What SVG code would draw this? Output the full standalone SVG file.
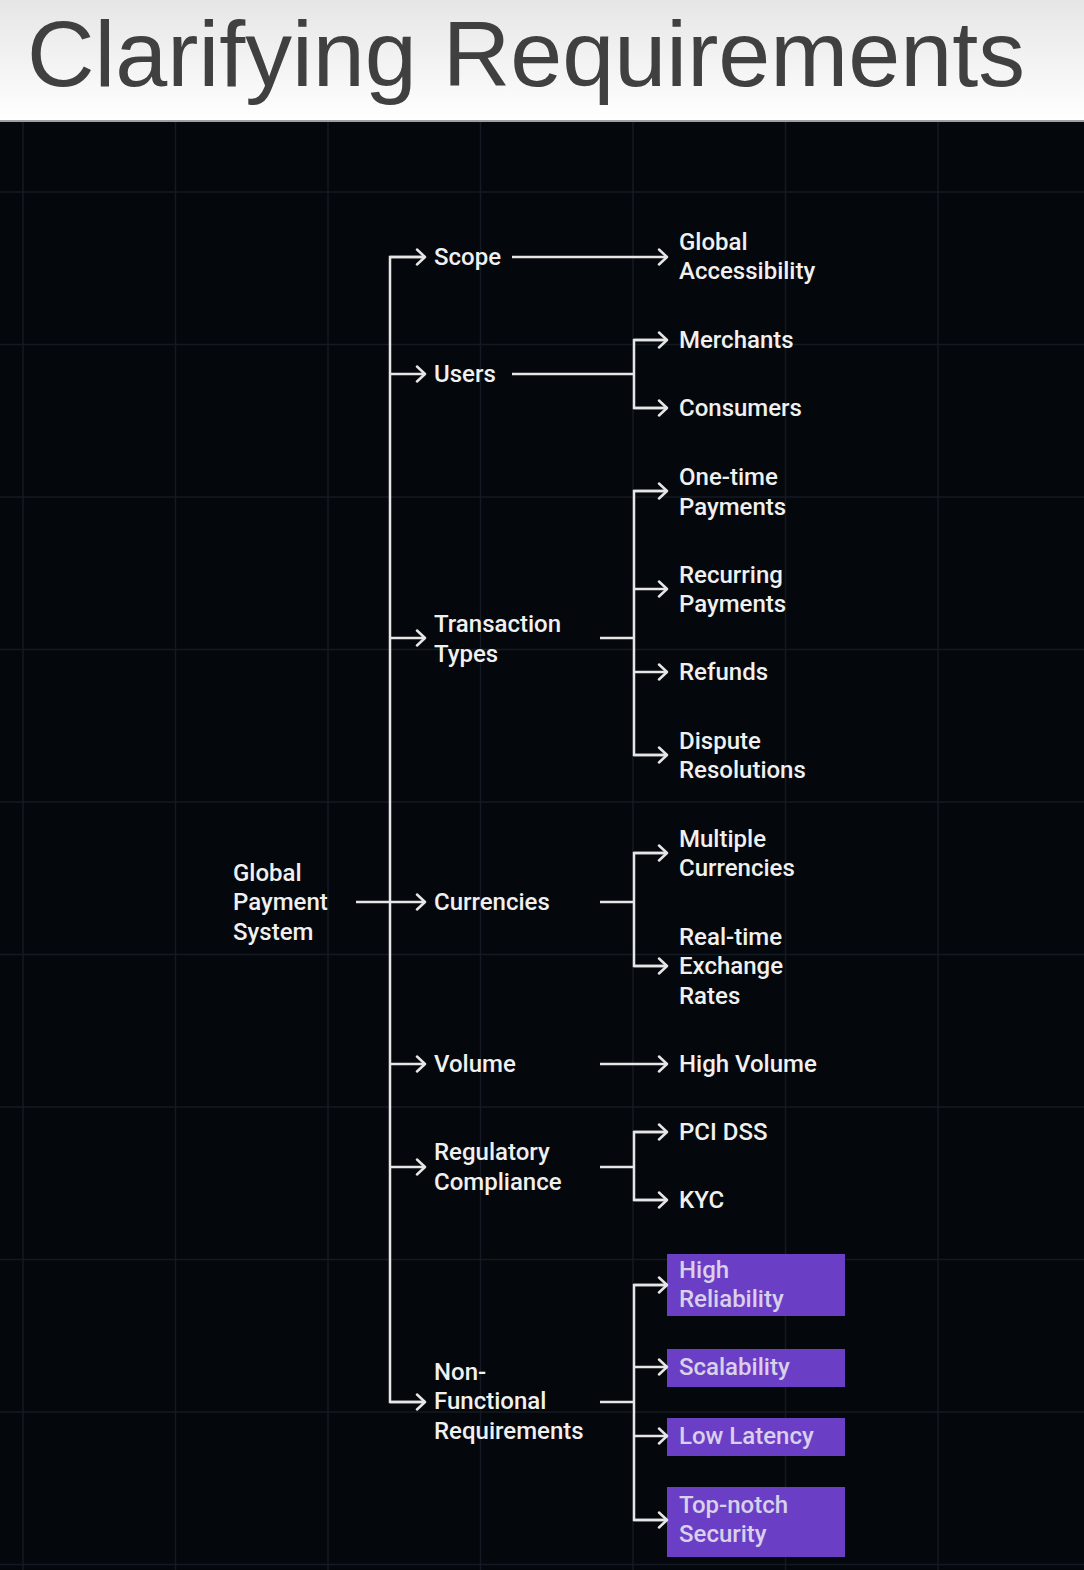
<svg xmlns="http://www.w3.org/2000/svg" width="1084" height="1570" viewBox="0 0 1084 1570">
<defs>
<linearGradient id="hdr" x1="0" y1="0" x2="0" y2="1">
<stop offset="0" stop-color="#e6e6e6"/>
<stop offset="1" stop-color="#ffffff"/>
</linearGradient>
<marker id="ah" viewBox="0 0 12 18" refX="10" refY="9" markerWidth="12" markerHeight="18" markerUnits="userSpaceOnUse" orient="auto">
<path d="M2,1.5 L10,9 L2,16.5" fill="none" stroke="#e6e6e6" stroke-width="2.5" stroke-linecap="round" stroke-linejoin="round"/>
</marker>
</defs>
<style>
.t{font-family:Roboto,"Liberation Sans",sans-serif;font-size:24px;font-weight:500;fill:#f0f0f0}
.pt{font-family:Roboto,"Liberation Sans",sans-serif;font-size:24px;font-weight:500;fill:#d9d0ea}
.c{fill:none;stroke:#e6e6e6;stroke-width:2.5}
.a{fill:none;stroke:#e6e6e6;stroke-width:2.5;marker-end:url(#ah)}
.g{stroke:#141a23;stroke-width:1.5}
.box{fill:#6a3fc6}
</style>
<rect x="0" y="0" width="1084" height="1570" fill="#04070b"/>
<g id="grid">
<line class="g" x1="23" y1="122" x2="23" y2="1570"/>
<line class="g" x1="175.5" y1="122" x2="175.5" y2="1570"/>
<line class="g" x1="328" y1="122" x2="328" y2="1570"/>
<line class="g" x1="480.5" y1="122" x2="480.5" y2="1570"/>
<line class="g" x1="633" y1="122" x2="633" y2="1570"/>
<line class="g" x1="785.5" y1="122" x2="785.5" y2="1570"/>
<line class="g" x1="938" y1="122" x2="938" y2="1570"/>
<line class="g" x1="0" y1="192" x2="1084" y2="192"/>
<line class="g" x1="0" y1="344.5" x2="1084" y2="344.5"/>
<line class="g" x1="0" y1="497" x2="1084" y2="497"/>
<line class="g" x1="0" y1="649.5" x2="1084" y2="649.5"/>
<line class="g" x1="0" y1="802" x2="1084" y2="802"/>
<line class="g" x1="0" y1="954.5" x2="1084" y2="954.5"/>
<line class="g" x1="0" y1="1107" x2="1084" y2="1107"/>
<line class="g" x1="0" y1="1259.5" x2="1084" y2="1259.5"/>
<line class="g" x1="0" y1="1412" x2="1084" y2="1412"/>
<line class="g" x1="0" y1="1564.5" x2="1084" y2="1564.5"/>
</g>
<g id="header">
<rect x="0" y="0" width="1084" height="121" fill="url(#hdr)"/>
<line x1="0" y1="121" x2="1084" y2="121" stroke="#a0a0a0" stroke-width="2"/>
<text x="27" y="86" font-family="'Liberation Sans',Arial,sans-serif" font-size="92" fill="#404040" textLength="998" lengthAdjust="spacingAndGlyphs">Clarifying Requirements</text>
</g>
<g id="connectors">
<line class="a" x1="356" y1="902" x2="425" y2="902"/>
<path class="c" d="M425,257 H390 V1402 H425"/>
<line class="a" x1="390" y1="257" x2="425" y2="257"/>
<line class="a" x1="390" y1="374" x2="425" y2="374"/>
<line class="a" x1="390" y1="638" x2="425" y2="638"/>
<line class="a" x1="390" y1="1064" x2="425" y2="1064"/>
<line class="a" x1="390" y1="1167" x2="425" y2="1167"/>
<line class="a" x1="390" y1="1402" x2="425" y2="1402"/>
<line class="a" x1="512" y1="257" x2="667" y2="257"/>
<line class="c" x1="512" y1="374" x2="634" y2="374"/>
<path class="c" d="M667,340 H634 V408 H667"/>
<line class="a" x1="634" y1="340" x2="667" y2="340"/>
<line class="a" x1="634" y1="408" x2="667" y2="408"/>
<line class="c" x1="600" y1="638" x2="634" y2="638"/>
<path class="c" d="M667,491 H634 V755 H667"/>
<line class="a" x1="634" y1="491" x2="667" y2="491"/>
<line class="a" x1="634" y1="589" x2="667" y2="589"/>
<line class="a" x1="634" y1="672" x2="667" y2="672"/>
<line class="a" x1="634" y1="755" x2="667" y2="755"/>
<line class="c" x1="600" y1="902" x2="634" y2="902"/>
<path class="c" d="M667,853 H634 V966 H667"/>
<line class="a" x1="634" y1="853" x2="667" y2="853"/>
<line class="a" x1="634" y1="966" x2="667" y2="966"/>
<line class="a" x1="600" y1="1064" x2="667" y2="1064"/>
<line class="c" x1="600" y1="1167" x2="634" y2="1167"/>
<path class="c" d="M667,1132 H634 V1200 H667"/>
<line class="a" x1="634" y1="1132" x2="667" y2="1132"/>
<line class="a" x1="634" y1="1200" x2="667" y2="1200"/>
<line class="c" x1="600" y1="1402" x2="634" y2="1402"/>
<path class="c" d="M667,1285 H634 V1520 H667"/>
</g>
<g id="root"><text class="t"><tspan x="233" y="881">Global</tspan><tspan x="233" y="910">Payment</tspan><tspan x="233" y="940">System</tspan></text></g>
<g id="scope"><text class="t" x="434" y="265">Scope</text></g>
<g id="users"><text class="t" x="434" y="382">Users</text></g>
<g id="transaction-types"><text class="t"><tspan x="434" y="632">Transaction</tspan><tspan x="434" y="662">Types</tspan></text></g>
<g id="currencies"><text class="t" x="434" y="910">Currencies</text></g>
<g id="volume"><text class="t" x="434" y="1072">Volume</text></g>
<g id="regulatory"><text class="t"><tspan x="434" y="1160">Regulatory</tspan><tspan x="434" y="1190">Compliance</tspan></text></g>
<g id="nfr"><text class="t"><tspan x="434" y="1380">Non-</tspan><tspan x="434" y="1409">Functional</tspan><tspan x="434" y="1439">Requirements</tspan></text></g>
<g id="global-accessibility"><text class="t"><tspan x="679" y="250">Global</tspan><tspan x="679" y="279">Accessibility</tspan></text></g>
<g id="merchants"><text class="t" x="679" y="348">Merchants</text></g>
<g id="consumers"><text class="t" x="679" y="416">Consumers</text></g>
<g id="one-time"><text class="t"><tspan x="679" y="485">One-time</tspan><tspan x="679" y="515">Payments</tspan></text></g>
<g id="recurring"><text class="t"><tspan x="679" y="583">Recurring</tspan><tspan x="679" y="612">Payments</tspan></text></g>
<g id="refunds"><text class="t" x="679" y="680">Refunds</text></g>
<g id="dispute"><text class="t"><tspan x="679" y="749">Dispute</tspan><tspan x="679" y="778">Resolutions</tspan></text></g>
<g id="multiple-currencies"><text class="t"><tspan x="679" y="847">Multiple</tspan><tspan x="679" y="876">Currencies</tspan></text></g>
<g id="exchange-rates"><text class="t"><tspan x="679" y="945">Real-time</tspan><tspan x="679" y="974">Exchange</tspan><tspan x="679" y="1004">Rates</tspan></text></g>
<g id="high-volume"><text class="t" x="679" y="1072">High Volume</text></g>
<g id="pci"><text class="t" x="679" y="1140">PCI DSS</text></g>
<g id="kyc"><text class="t" x="679" y="1208">KYC</text></g>
<g id="high-reliability"><rect class="box" x="667" y="1254" width="178" height="62"/><text class="pt"><tspan x="679" y="1278">High</tspan><tspan x="679" y="1307">Reliability</tspan></text></g>
<g id="scalability"><rect class="box" x="667" y="1349" width="178" height="38"/><text class="pt" x="679" y="1375">Scalability</text></g>
<g id="low-latency"><rect class="box" x="667" y="1418" width="178" height="38"/><text class="pt" x="679" y="1444">Low Latency</text></g>
<g id="security"><rect class="box" x="667" y="1487" width="178" height="70"/><text class="pt"><tspan x="679" y="1513">Top-notch</tspan><tspan x="679" y="1542">Security</tspan></text></g>
<g id="nfr-arrows">
<line class="a" x1="634" y1="1285" x2="667" y2="1285"/>
<line class="a" x1="634" y1="1367" x2="667" y2="1367"/>
<line class="a" x1="634" y1="1436" x2="667" y2="1436"/>
<line class="a" x1="634" y1="1520" x2="667" y2="1520"/>
</g>
</svg>
